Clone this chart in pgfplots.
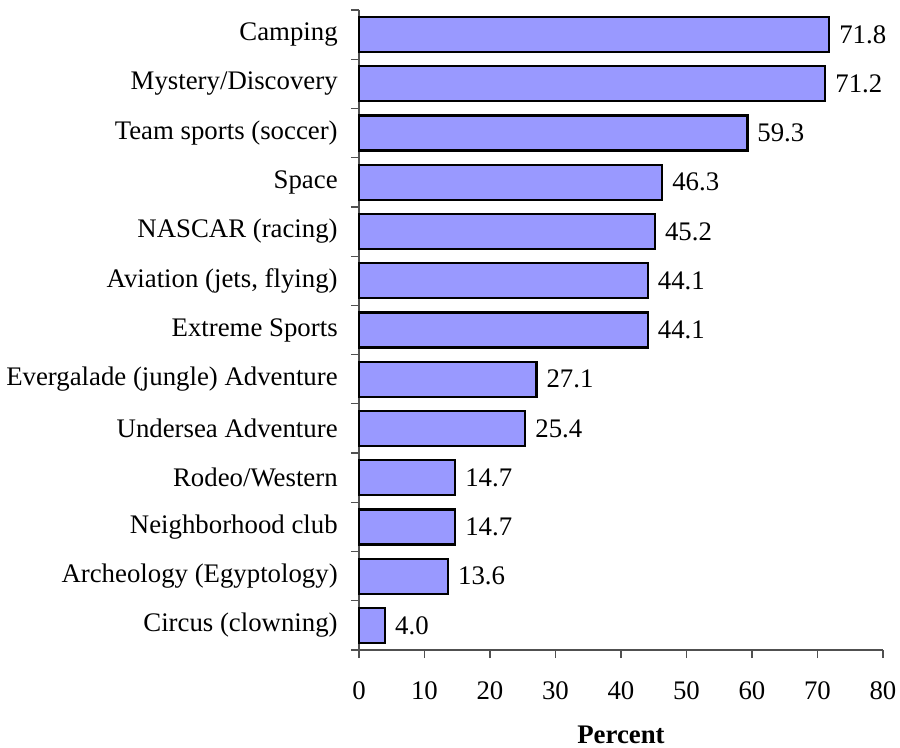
\documentclass[border=0pt]{standalone}
\usepackage{fontspec}
\setmainfont{Liberation Serif}
\usepackage{pgfplots}
\pgfplotsset{compat=1.18}
\definecolor{barblue}{RGB}{153,153,255}
\definecolor{axgray}{RGB}{80,80,80}
\newcommand{\fs}{\fontsize{13.4}{16}\selectfont}
\begin{document}
\fs
\begin{tikzpicture}
\useasboundingbox (-179.5pt,-49pt) rectangle (270.5pt,325pt);
\begin{axis}[
  at={(0,0)}, anchor=south west,
  scale only axis, width=262pt, height=320pt,
  xbar, bar width=17.5pt,
  xmin=0, xmax=80, xtick={0,10,...,80},
  ymin=-0.5, ymax=12.5, y dir=reverse,
  ytick={0,...,12},
  yticklabels={Camping,Mystery/Discovery,Team sports (soccer),Space,NASCAR (racing),Aviation (jets{,} flying),Extreme Sports,Evergalade (jungle) Adventure,Undersea Adventure,Rodeo/Western,Neighborhood club,Archeology (Egyptology),Circus (clowning)},
  ytick style={draw=none},
  extra y ticks={-0.5,0.5,...,12.5},
  extra y tick labels={},
  extra y tick style={ytick style={draw=axgray, line width=0.6pt}, major tick length=4pt},
  axis x line*=bottom, axis y line*=left,
  axis line style={draw=axgray, line width=0.6pt, -},
  xtick style={draw=axgray, line width=0.6pt},
  tick align=outside, major tick length=4pt,
  yticklabel style={font=\fs, xshift=-2pt},
  xticklabel style={font=\fs, yshift=-7pt},
  /pgf/number format/assume math mode=true,
  xlabel={\textbf{Percent}},
  xlabel style={font=\fs, yshift=-4pt},
  nodes near coords={\pgfmathprintnumber[fixed,fixed zerofill,precision=1,assume math mode=true]{\pgfplotspointmeta}},
  nodes near coords style={font=\fs},
  clip=false,
]
\addplot[fill=barblue, draw=black, line width=1.1pt] coordinates {
(71.8,0) (71.2,1) (59.3,2) (46.3,3) (45.2,4) (44.1,5) (44.1,6) (27.1,7) (25.4,8) (14.7,9) (14.7,10) (13.6,11) (4.0,12)
};
\end{axis}
\end{tikzpicture}
\end{document}
